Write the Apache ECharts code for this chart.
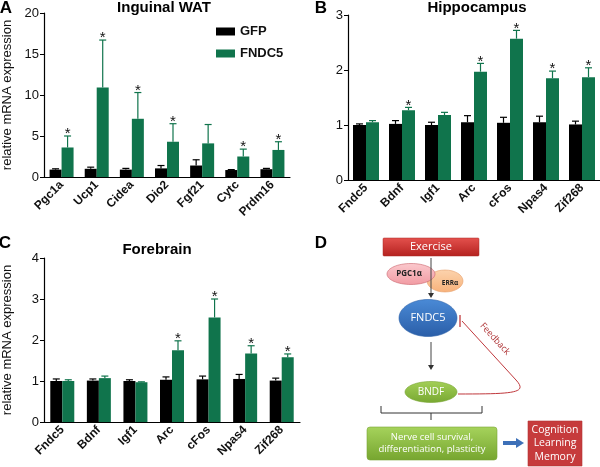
<!DOCTYPE html>
<html>
<head>
<meta charset="utf-8">
<script src="https://cdn.jsdelivr.net/npm/echarts@6/dist/echarts.min.js"></script>
<style>
html, body { margin: 0; padding: 0; background: #fff; }
#main { width: 600px; height: 467px; }
</style>
</head>
<body>
<div id="main"></div>
<script>
// panel A - inguinal WAT
var catsA = ['Pgc1a', 'Ucp1', 'Cidea', 'Dio2', 'Fgf21', 'Cytc', 'Prdm16'];
var gfpA = [0.9, 1.0, 0.9, 1.05, 1.4, 0.85, 0.95];
var gfpSemA = [0.1, 0.2, 0.15, 0.35, 0.7, 0.05, 0.1];
var fndcA = [3.6, 10.9, 7.1, 4.3, 4.1, 2.5, 3.3];
var fndcSemA = [1.4, 5.8, 3.2, 2.2, 2.3, 0.9, 1.0];
var starA = [1, 1, 1, 1, 0, 1, 1];

// panel B - hippocampus
var catsB = ['Fndc5', 'Bdnf', 'Igf1', 'Arc', 'cFos', 'Npas4', 'Zif268'];
var gfpB = [1.0, 1.02, 1.0, 1.05, 1.04, 1.05, 1.01];
var gfpSemB = [0.02, 0.06, 0.05, 0.12, 0.10, 0.11, 0.06];
var fndcB = [1.05, 1.27, 1.18, 1.97, 2.57, 1.85, 1.87];
var fndcSemB = [0.03, 0.05, 0.05, 0.15, 0.15, 0.13, 0.17];
var starB = [0, 1, 0, 1, 1, 1, 1];

// panel C - forebrain
var catsC = ['Fndc5', 'Bdnf', 'Igf1', 'Arc', 'cFos', 'Npas4', 'Zif268'];
var gfpC = [1.0, 1.01, 1.0, 1.03, 1.04, 1.05, 1.01];
var gfpSemC = [0.05, 0.04, 0.03, 0.07, 0.08, 0.11, 0.06];
var fndcC = [1.0, 1.07, 0.97, 1.75, 2.55, 1.67, 1.58];
var fndcSemC = [0.03, 0.05, 0.01, 0.23, 0.45, 0.19, 0.08];
var starC = [0, 0, 0, 1, 1, 1, 1];

var BLACK = '#000000';
var GREEN = '#10744c';
var FONT = '"Liberation Sans", Arial, sans-serif';
var DFONT = '"Open Sans", "Liberation Sans", sans-serif';

var myChart = echarts.init(document.getElementById('main'));

function yAx(gi, max, interval, withName) {
    return {
        gridIndex: gi, type: 'value', min: 0, max: max, interval: interval,
        name: withName ? 'relative mRNA expression' : '',
        nameLocation: 'middle', nameGap: 30,
        nameTextStyle: { fontFamily: FONT, fontSize: 13, color: '#111' },
        axisLine: { show: true, lineStyle: { color: '#000', width: 1.2 } },
        axisTick: { show: true, length: 4, lineStyle: { color: '#000' } },
        axisLabel: { fontFamily: FONT, fontSize: 13, color: '#111', margin: 5 },
        splitLine: { show: false }
    };
}

function xAx(gi, cats) {
    return {
        gridIndex: gi, type: 'category', data: cats,
        axisLine: { lineStyle: { color: '#000', width: 1.2 } },
        axisTick: { show: false },
        axisLabel: { interval: 0, rotate: 45, fontFamily: FONT, fontSize: 12, fontWeight: 'bold', color: '#111', margin: 6 }
    };
}

function barS(name, gi, values, color, bw) {
    return {
        name: name, type: 'bar', xAxisIndex: gi, yAxisIndex: gi,
        data: values, barWidth: bw, barGap: '0%',
        itemStyle: { color: color }
    };
}

function errS(gi, means, sems, stars, side, bw, color) {
    var data = means.map(function (m, i) { return [i, m + sems[i], m, stars[i]]; });
    return {
        name: 'err' + gi + side, type: 'custom', xAxisIndex: gi, yAxisIndex: gi,
        data: data, encode: { x: 0, y: 1 }, z: 3,
        renderItem: function (params, api) {
            var top = api.coord([api.value(0), api.value(1)]);
            var base = api.coord([api.value(0), api.value(2)]);
            var x = top[0] + side * bw / 2;
            var kids = [
                { type: 'line', shape: { x1: x, y1: base[1], x2: x, y2: top[1] }, style: { stroke: color, lineWidth: 1.2 } },
                { type: 'line', shape: { x1: x - 3.5, y1: top[1], x2: x + 3.5, y2: top[1] }, style: { stroke: color, lineWidth: 1.2 } }
            ];
            if (api.value(3)) {
                kids.push({ type: 'text', style: { text: '*', x: x, y: top[1] - 2, textAlign: 'center', textVerticalAlign: 'middle', fill: '#111', font: '15px ' + FONT } });
            }
            return { type: 'group', children: kids };
        }
    };
}

function txt(t, x, y, size, weight, color) {
    return { type: 'text', style: { text: t, x: x, y: y, textAlign: 'center', textVerticalAlign: 'middle', fill: color || '#111', font: (weight || 'normal') + ' ' + size + 'px ' + FONT } };
}

function vgrad(c1, c2) {
    return new echarts.graphic.LinearGradient(0, 0, 0, 1, [{ offset: 0, color: c1 }, { offset: 1, color: c2 }]);
}

function dtxt(t, x, y, size, color, weight) {
    return { type: 'text', z: 10, style: { text: t, x: x, y: y, textAlign: 'center', textVerticalAlign: 'middle', fill: color, font: (weight || 'normal') + ' ' + size + 'px ' + DFONT, lineHeight: size + 3 } };
}

// panel D diagram
var diagram = [
    { type: 'rect', shape: { x: 383, y: 238, width: 96, height: 18, r: 1 }, style: { fill: vgrad('#e4514d', '#b4221f'), stroke: '#a82a27', lineWidth: 0.5 } },
    dtxt('Exercise', 431, 247, 11, '#fff'),
    { type: 'ellipse', shape: { cx: 445, cy: 281, rx: 18, ry: 11 }, style: { fill: vgrad('#fcd3ad', '#f7b27b'), stroke: '#e6a06b', lineWidth: 0.6 } },
    { type: 'ellipse', shape: { cx: 411, cy: 274, rx: 24, ry: 10.5 }, style: { fill: vgrad('#fbc9cd', '#f19ba3'), stroke: '#c9636b', lineWidth: 0.6 } },
    dtxt('PGC1α', 409, 274, 8, '#222', 'bold'),
    dtxt('ERRα', 450, 283, 6.5, '#222', 'bold'),
    { type: 'line', z: 9, shape: { x1: 431, y1: 258, x2: 431, y2: 294 }, style: { stroke: '#444', lineWidth: 1 } },
    { type: 'polygon', z: 9, shape: { points: [[428, 293], [434, 293], [431, 298]] }, style: { fill: '#333' } },
    { type: 'ellipse', shape: { cx: 428, cy: 318, rx: 29, ry: 18.5 }, style: { fill: vgrad('#4a8ad6', '#2a5ea8'), stroke: '#2d62a8', lineWidth: 0.6 } },
    dtxt('FNDC5', 428, 318, 11, '#fff'),
    { type: 'line', shape: { x1: 431, y1: 342, x2: 431, y2: 366 }, style: { stroke: '#444', lineWidth: 1 } },
    { type: 'polygon', shape: { points: [[428, 365], [434, 365], [431, 370]] }, style: { fill: '#333' } },
    { type: 'ellipse', shape: { cx: 431, cy: 392, rx: 26, ry: 10.5 }, style: { fill: vgrad('#a3cf57', '#78a832'), stroke: '#7aa636', lineWidth: 0.6 } },
    dtxt('BNDF', 431, 392, 10, '#fff'),
    { type: 'line', shape: { x1: 462, y1: 321, x2: 516, y2: 380 }, style: { stroke: '#c0383c', lineWidth: 1 } },
    { type: 'bezierCurve', shape: { x1: 516, y1: 380, cpx1: 528, cpy1: 393, cpx2: 515, cpy2: 394, x2: 458, y2: 394 }, style: { stroke: '#c0383c', lineWidth: 1, fill: null } },
    { type: 'line', shape: { x1: 460, y1: 315, x2: 460, y2: 327 }, style: { stroke: '#c0383c', lineWidth: 1.3 } },
    { type: 'text', x: 495, y: 339, rotation: -0.83, style: { text: 'Feedback', x: 0, y: 0, textAlign: 'center', textVerticalAlign: 'middle', fill: '#b0383a', font: '9px ' + DFONT } },
    { type: 'polyline', shape: { points: [[381, 406], [381, 413], [482, 413], [482, 406]] }, style: { stroke: '#333', lineWidth: 1, fill: null } },
    { type: 'line', shape: { x1: 431, y1: 413, x2: 431, y2: 420 }, style: { stroke: '#333', lineWidth: 1 } },
    { type: 'rect', shape: { x: 367, y: 427, width: 130, height: 33, r: 3 }, style: { fill: vgrad('#a6d35c', '#76a52f'), stroke: '#7ba638', lineWidth: 0.6 } },
    dtxt('Nerve cell survival,\ndifferentiation, plasticity', 432, 443.5, 9.5, '#fff'),
    { type: 'rect', shape: { x: 503, y: 441, width: 14, height: 4 }, style: { fill: '#3d70b8' } },
    { type: 'polygon', shape: { points: [[516, 438], [524, 443], [516, 448]] }, style: { fill: '#3d70b8' } },
    { type: 'rect', shape: { x: 528, y: 421, width: 54, height: 45 }, style: { fill: '#c63b3c', stroke: '#b23234', lineWidth: 0.6 } },
    dtxt('Cognition\nLearning\nMemory', 555, 443.5, 10.5, '#fff')
];

var labels = [
    txt('A', 6, 8, 17, 'bold', '#000'),
    txt('B', 321, 8, 17, 'bold', '#000'),
    txt('C', 5, 243, 17, 'bold', '#000'),
    txt('D', 321, 243, 17, 'bold', '#000'),
    txt('Inguinal WAT', 164, 8, 15, 'bold', '#000'),
    txt('Hippocampus', 477, 8, 15, 'bold', '#000'),
    txt('Forebrain', 157, 250, 15, 'bold', '#000')
];

var option = {
    animation: false,
    backgroundColor: '#fff',
    textStyle: { fontFamily: FONT },
    legend: {
        data: ['GFP', 'FNDC5'], orient: 'vertical', left: 211, top: 20,
        itemWidth: 19, itemHeight: 8, itemGap: 9, icon: 'rect',
        textStyle: { fontFamily: FONT, fontSize: 13, fontWeight: 'bold', color: '#111' }
    },
    grid: [
        { left: 44, top: 13, width: 246, height: 164 },
        { left: 348, top: 15, width: 252, height: 165 },
        { left: 44, top: 258, width: 256, height: 164 }
    ],
    xAxis: [xAx(0, catsA), xAx(1, catsB), xAx(2, catsC)],
    yAxis: [yAx(0, 20, 5, true), yAx(1, 3, 1, false), yAx(2, 4, 1, true)],
    series: [
        barS('GFP', 0, gfpA, BLACK, 12), barS('FNDC5', 0, fndcA, GREEN, 12),
        barS('GFP', 1, gfpB, BLACK, 13), barS('FNDC5', 1, fndcB, GREEN, 13),
        barS('GFP', 2, gfpC, BLACK, 12), barS('FNDC5', 2, fndcC, GREEN, 12),
        errS(0, gfpA, gfpSemA, [0, 0, 0, 0, 0, 0, 0], -1, 12, BLACK),
        errS(0, fndcA, fndcSemA, starA, 1, 12, GREEN),
        errS(1, gfpB, gfpSemB, [0, 0, 0, 0, 0, 0, 0], -1, 13, BLACK),
        errS(1, fndcB, fndcSemB, starB, 1, 13, GREEN),
        errS(2, gfpC, gfpSemC, [0, 0, 0, 0, 0, 0, 0], -1, 12, BLACK),
        errS(2, fndcC, fndcSemC, starC, 1, 12, GREEN)
    ],
    graphic: labels.concat(diagram)
};

myChart.setOption(option);
</script>
</body>
</html>
